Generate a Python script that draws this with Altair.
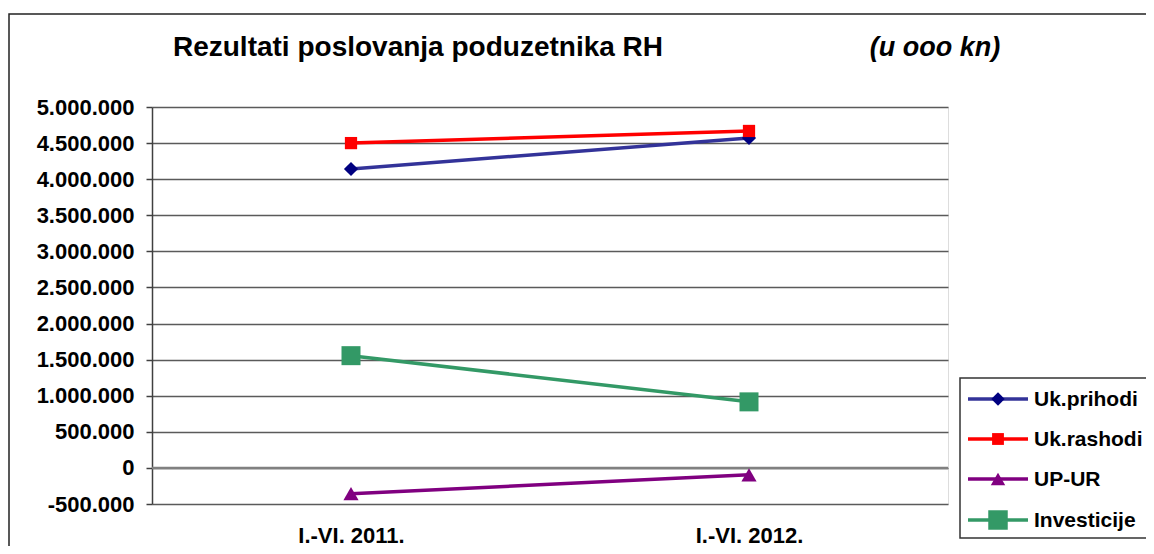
import altair as alt
import pandas as pd

# ---- data ----
periods = ["I.-VI. 2011.", "I.-VI. 2012."]
series = ["Uk.prihodi", "Uk.rashodi", "UP-UR", "Investicije"]
prihodi = [4141000, 4572000]
rashodi = [4500000, 4668000]
up_ur = [-357000, -96000]
investicije = [1555000, 915000]
y_ticks = [-500000, 0, 500000, 1000000, 1500000, 2000000, 2500000,
           3000000, 3500000, 4000000, 4500000, 5000000]
title_text = "Rezultati poslovanja poduzetnika RH"
unit_text = "(u ooo kn)"

# ---- styles ----
line_colors = ["#333399", "#FF0000", "#800080", "#339966"]
marker_colors = ["#000080", "#FF0000", "#800080", "#339966"]
shapes = ["diamond", "square", "triangle-up", "square"]
sizes = [200, 150, 230, 361]
legend_sizes = [180, 140, 210, 380]
FONT = "Liberation Sans"

values = {"Uk.prihodi": prihodi, "Uk.rashodi": rashodi,
          "UP-UR": up_ur, "Investicije": investicije}
rows = []
for s in series:
    for p, v in zip(periods, values[s]):
        rows.append({"series": s, "period": p, "value": v})
df = pd.DataFrame(rows)

x_enc = alt.X("period:N", sort=periods,
              scale=alt.Scale(type="point", domain=periods, padding=0.5),
              axis=alt.Axis(title=None, labelAngle=0, ticks=False, domain=False,
                            grid=False, labelFont=FONT, labelFontSize=22,
                            labelFontWeight="bold", labelColor="black",
                            labelPadding=21))
y_enc = alt.Y("value:Q",
              scale=alt.Scale(domain=[-500000, 5000000], nice=False, zero=False),
              axis=alt.Axis(title=None, values=y_ticks, tickCount=len(y_ticks) + 2,
                            format=",d",
                            labelOverlap=False, labelFlush=False, labelBound=False,
                            labelFont=FONT, labelFontSize=22, labelFontWeight="bold",
                            labelColor="black", tickSize=6, tickColor="#404040",
                            tickWidth=1.5, domainColor="#404040", domainWidth=1.5,
                            gridColor="#5a5a5a", gridWidth=1.5, labelPadding=12))

one = pd.DataFrame({"a": [0]})

border = alt.Chart(one).mark_rect(fillOpacity=0, stroke="#222222", strokeWidth=1.5).encode(
    x=alt.value(-143), x2=alt.value(1300), y=alt.value(-93), y2=alt.value(700))

base = alt.Chart(df)
grid_layer = base.mark_line(opacity=0).encode(x=x_enc, y=y_enc)

zero_rule = alt.Chart(pd.DataFrame({"z": [0]})).mark_rule(
    color="#808080", strokeWidth=2.5).encode(y=alt.Y("z:Q"))

lines = base.mark_line(strokeWidth=3.5).encode(
    x=x_enc, y=y_enc,
    color=alt.Color("series:N", scale=alt.Scale(domain=series, range=line_colors),
                    legend=None),
    detail="series:N")

point_layers = []
for i, s in enumerate(series):
    point_layers.append(
        base.transform_filter(alt.datum.series == s).mark_point(
            filled=True, opacity=1, shape=shapes[i], size=sizes[i],
            fill=marker_colors[i]).encode(x=x_enc, y=y_enc))

title = alt.Chart(one).mark_text(font=FONT, fontSize=28, fontWeight="bold",
                                 align="center", baseline="alphabetic",
                                 color="black").encode(
    x=alt.value(266), y=alt.value(-51), text=alt.value(title_text))
unit = alt.Chart(one).mark_text(font=FONT, fontSize=27, fontWeight="bold",
                                fontStyle="italic", align="center",
                                baseline="alphabetic", color="black").encode(
    x=alt.value(783), y=alt.value(-51), text=alt.value(unit_text))

# ---- legend (drawn by hand to mimic the Excel legend box) ----
legend_layers = [
    alt.Chart(one).mark_rect(fill="white", stroke="#333333", strokeWidth=1.5).encode(
        x=alt.value(808), x2=alt.value(1300), y=alt.value(271), y2=alt.value(431))
]
leg_y = [292, 332, 372, 413]
for i, s in enumerate(series):
    legend_layers.append(alt.Chart(one).mark_rule(color=line_colors[i], strokeWidth=3.5).encode(
        x=alt.value(816), x2=alt.value(876), y=alt.value(leg_y[i])))
    legend_layers.append(alt.Chart(one).mark_point(
        filled=True, opacity=1, shape=shapes[i], size=legend_sizes[i],
        fill=marker_colors[i]).encode(x=alt.value(846), y=alt.value(leg_y[i])))
    legend_layers.append(alt.Chart(one).mark_text(
        font=FONT, fontSize=21, fontWeight="bold", align="left", baseline="middle",
        color="black").encode(x=alt.value(882), y=alt.value(leg_y[i] + 1),
                              text=alt.value(s)))

chart = alt.layer(border, grid_layer, zero_rule, lines, *point_layers, title, unit,
                  *legend_layers).properties(
    width=796, height=397,
    autosize=alt.AutoSizeParams(type="none"),
    padding={"left": 144, "top": 99, "right": 198, "bottom": 42},
    background="white",
).configure_view(stroke="#808080", strokeWidth=2.5).configure(
    locale={"number": {"decimal": ",", "thousands": ".", "grouping": [3],
                       "currency": ["", ""], "minus": "-"}})

chart.save("out.html", embed_options={"renderer": "svg", "actions": False})
